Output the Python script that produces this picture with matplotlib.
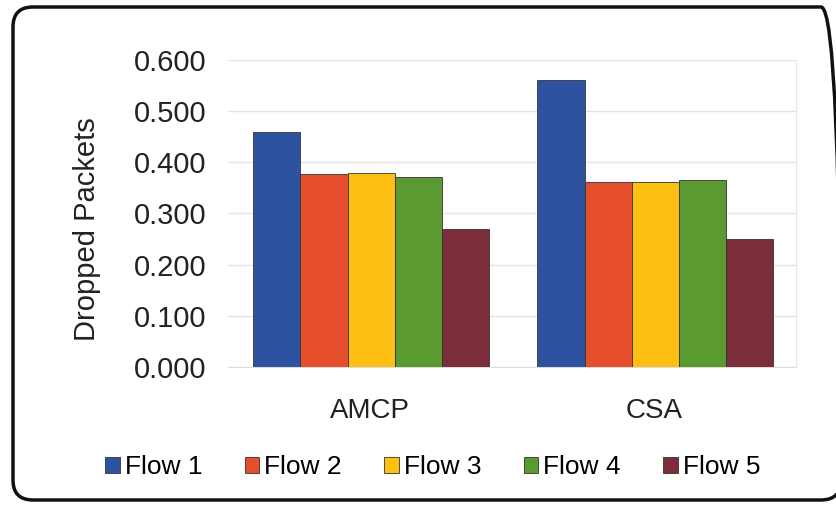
import numpy as np
import matplotlib
matplotlib.use("Agg")
import matplotlib.pyplot as plt
from matplotlib.patches import FancyBboxPatch

plt.rcParams['font.family'] = ['Liberation Sans', 'DejaVu Sans']

# data
categories = ['AMCP', 'CSA']
flows = ['Flow 1', 'Flow 2', 'Flow 3', 'Flow 4', 'Flow 5']
flow1 = [0.460, 0.561]
flow2 = [0.377, 0.362]
flow3 = [0.379, 0.362]
flow4 = [0.372, 0.366]
flow5 = [0.270, 0.250]
yticks = [0.0, 0.1, 0.2, 0.3, 0.4, 0.5, 0.6]

colors = ['#2D52A0', '#E64F2E', '#FDBF12', '#5B9A30', '#7B2D3C']
series = [flow1, flow2, flow3, flow4, flow5]

fig = plt.figure(figsize=(8.37, 5.07), dpi=100)
ax = fig.add_axes([0.272, 0.276, 0.679, 0.606])

x = np.arange(len(categories))
width = 0.166
for i, (vals, c, name) in enumerate(zip(series, colors, flows)):
    ax.bar(x + (i - 2) * width + 0.005, vals, width, color=c, edgecolor='#333333',
           linewidth=0.6, label=name, zorder=3)

ax.set_xlim(-0.5, 1.5)
ax.set_ylim(0, 0.6)
ax.set_yticks(yticks)
ax.set_yticklabels(['%.3f' % v for v in yticks], fontsize=21, color='#222222')
ax.set_xticks(x)
ax.set_xticklabels(categories, fontsize=20, color='#222222')
ax.tick_params(axis='both', length=0)
ax.tick_params(axis='x', pad=22)
ax.tick_params(axis='y', pad=15)
ax.grid(axis='y', color='#e4e4e4', linewidth=1, zorder=0)
for s in ['top', 'left']:
    ax.spines[s].set_visible(False)
ax.spines['right'].set_color('#e8e8e8')
ax.spines['bottom'].set_color('#dddddd')
ax.set_ylabel('Dropped Packets', fontsize=21, color='#222222')
ax.yaxis.set_label_coords(-0.222, 0.45)

fig.legend(loc='center', bbox_to_anchor=(0.517, 0.079), ncol=5, frameon=False,
           fontsize=19, handlelength=0.55, handleheight=0.55, handletextpad=0.2,
           columnspacing=1.6)

# rounded frame around the whole chart, right edge just past the image
frame = FancyBboxPatch((13, 7), 828, 493, boxstyle='round,pad=0,rounding_size=20',
                       transform=None, facecolor='none', edgecolor='#111111',
                       linewidth=2.5, zorder=10)
fig.patches.append(frame)

fig.savefig('out.png', dpi=100)
